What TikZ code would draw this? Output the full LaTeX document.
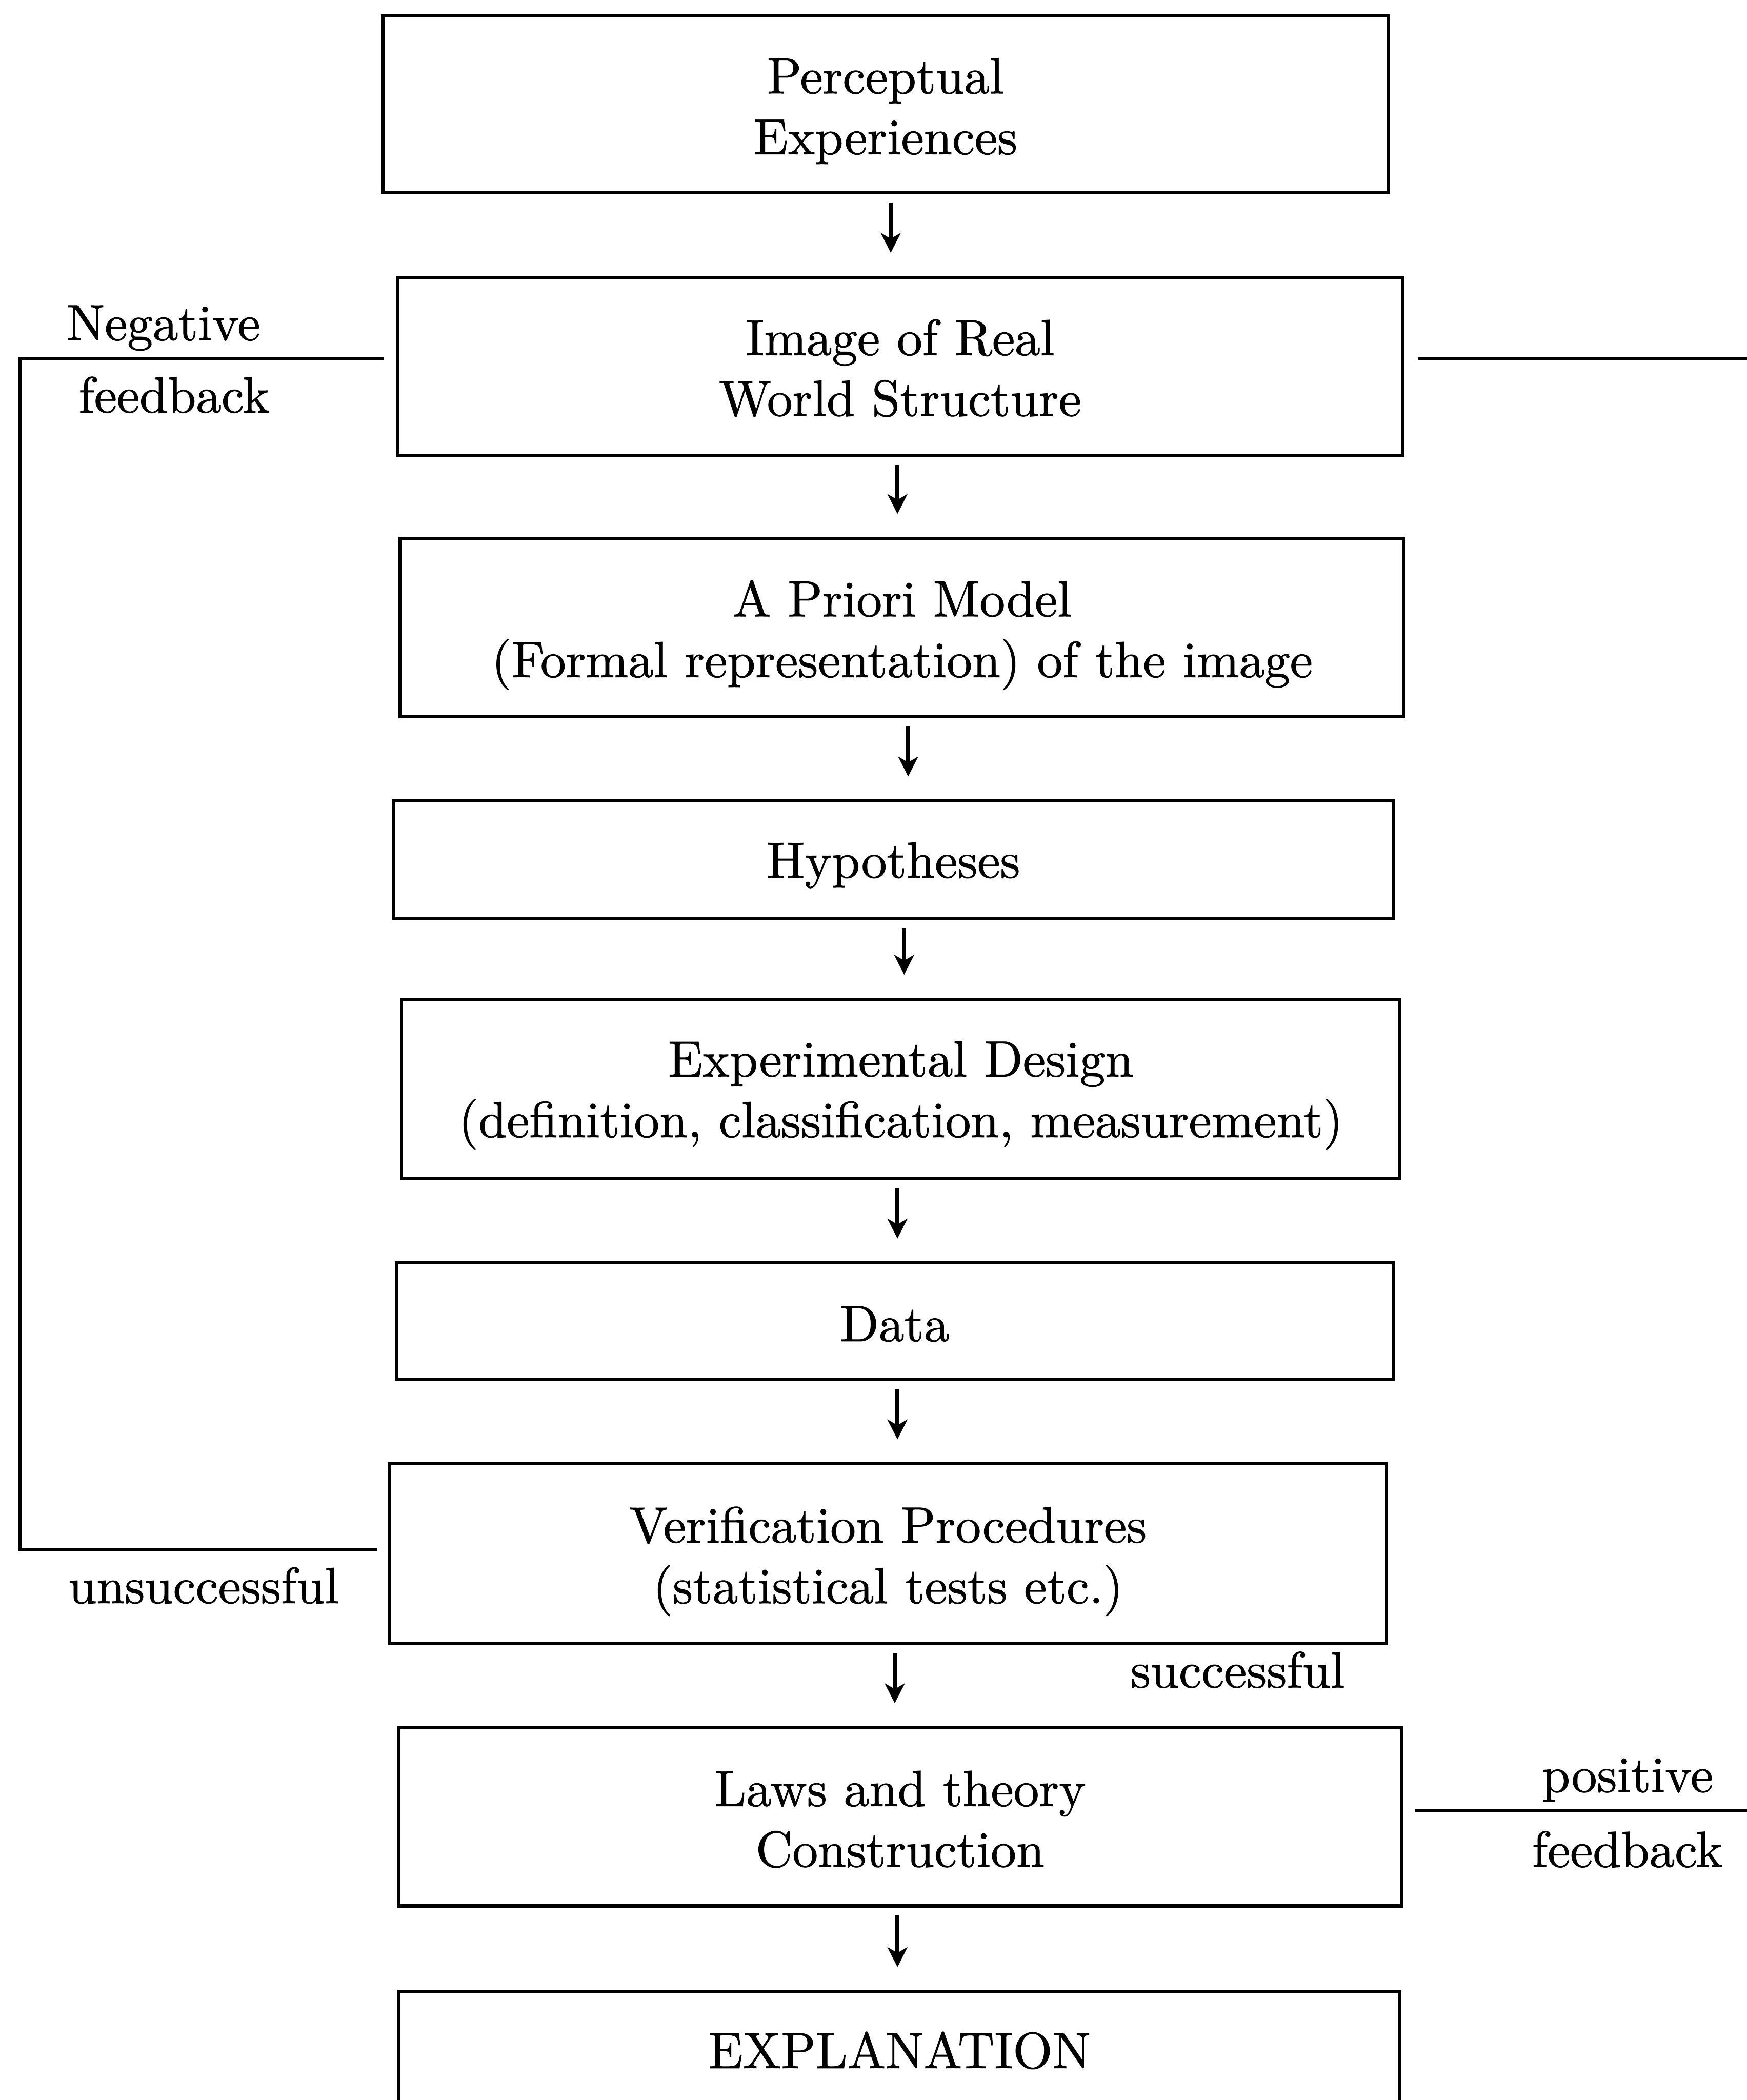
\documentclass[tikz,border=0pt]{standalone}
\usepackage{fontspec}
\setmainfont{Latin Modern Roman}[FakeBold=0.9]
\usetikzlibrary{arrows.meta,calc}
\newcommand{\lift}[1]{\rule{0pt}{#1}}
\begin{document}
\begin{tikzpicture}[x=0.01cm,y=-0.01cm,
  box/.style={draw=black, line width=0.68pt, inner sep=0pt, align=center,
    font=\fontsize{10.8}{12.9}\selectfont},
  lbl/.style={inner sep=0pt, anchor=base, font=\fontsize{10.8}{12.9}\selectfont},
  arr/.style={line width=0.9pt, -{Stealth[length=4.2pt,width=4.2pt,inset=1.2pt]},
    shorten <=0.06cm, shorten >=0.17cm},
  fb/.style={line width=0.62pt}]
\useasboundingbox (0,0) rectangle (1304,1568);
% boxes
\node[box, minimum width=7.50cm, minimum height=1.32cm] (b1) at (661,78) {\lift{10.3pt}Perceptual\\Experiences};
\node[box, minimum width=7.50cm, minimum height=1.33cm] (b2) at (672,273.5) {\lift{8.4pt}Image of Real\\World Structure};
\node[box, minimum width=7.49cm, minimum height=1.33cm] (b3) at (673.5,468.5) {\lift{10.9pt}A Priori Model\\(Formal representation) of the image};
\node[box, minimum width=7.46cm, minimum height=0.88cm] (b4) at (667,642) {\lift{9.8pt}Hypotheses};
\node[box, minimum width=7.45cm, minimum height=1.34cm] (b5) at (672.5,813) {\lift{10.3pt}Experimental Design\\(definition, classification, measurement)};
\node[box, minimum width=7.44cm, minimum height=0.87cm] (b6) at (668,986.5) {\lift{8.6pt}Data};
\node[box, minimum width=7.44cm, minimum height=1.34cm] (b7) at (663,1160) {\lift{10.9pt}Verification Procedures\\(statistical tests etc.)};
\node[box, minimum width=7.48cm, minimum height=1.33cm] (b8) at (672,1356.5) {\lift{8.6pt}Laws and theory\\Construction};
\node[box, minimum width=7.47cm, minimum height=0.88cm] (b9) at (671.5,1531) {EXPLANATION};
% arrow columns
\coordinate (c1) at (665,0);
\coordinate (c2) at (670,0);
\coordinate (c3) at (678,0);
\coordinate (c4) at (675,0);
\coordinate (c5) at (670,0);
\coordinate (c6) at (670,0);
\coordinate (c7) at (668,0);
\coordinate (c8) at (670,0);
\draw[arr] (b1.south -| c1) -- (b2.north -| c1);
\draw[arr] (b2.south -| c2) -- (b3.north -| c2);
\draw[arr] (b3.south -| c3) -- (b4.north -| c3);
\draw[arr] (b4.south -| c4) -- (b5.north -| c4);
\draw[arr] (b5.south -| c5) -- (b6.north -| c5);
\draw[arr] (b6.south -| c6) -- (b7.north -| c6);
\draw[arr] (b7.south -| c7) -- (b8.north -| c7);
\draw[arr] (b8.south -| c8) -- (b9.north -| c8);
% negative feedback loop
\coordinate (nfTop) at (15,268);
\coordinate (nfBot) at (15,1157);
\draw[fb] ($(b2.west)+(-9,-5.5)$) -- (nfTop) -- (nfBot) -- ($(b7.west)+(-8,-3)$);
% right-hand lines
\coordinate (rTop) at (1310,268);
\coordinate (rPos) at (1310,1352);
\draw[fb] ($(b2.east)+(10,-5.5)$) -- (rTop);
\draw[fb] ($(b8.east)+(9,-4.5)$) -- (rPos);
% labels
\node[lbl] (negA) at (122,254) {Negative};
\node[lbl] (negB) at (130,308) {feedback};
\node[lbl] (uns) at (152,1197) {unsuccessful};
\node[lbl] (suc) at (924,1260) {successful};
\node[lbl] (posA) at (1215,1338) {positive};
\node[lbl] (posB) at (1215,1394) {feedback};
\end{tikzpicture}
\end{document}
